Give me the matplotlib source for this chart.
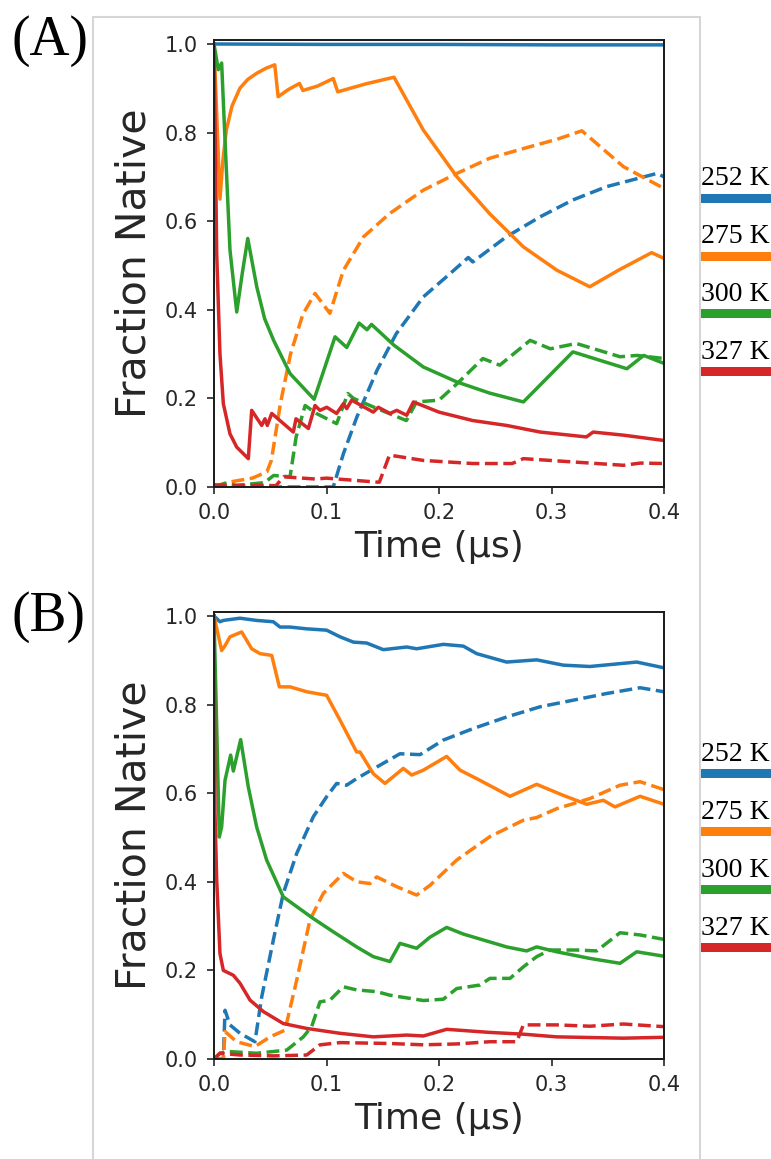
import matplotlib
matplotlib.use("Agg")
import matplotlib.pyplot as plt
from matplotlib.patches import Rectangle

# ---------------- data (time in microseconds, fraction native) ----------------
temps = ["252 K", "275 K", "300 K", "327 K"]
colors = ["#1f77b4", "#ff7f0e", "#2ca02c", "#d62728"]

# Panel A
A_blue_solid_t = [0, 0.1, 0.2, 0.3, 0.4]
A_blue_solid_v = [1.0, 0.999, 0.999, 0.998, 0.998]

A_orange_solid_t = [0, 0.0053, 0.008, 0.011, 0.016, 0.023, 0.030, 0.038, 0.046, 0.054, 0.057, 0.066,
                    0.076, 0.079, 0.092, 0.106, 0.110, 0.135, 0.160, 0.186, 0.216, 0.245, 0.275,
                    0.305, 0.334, 0.360, 0.389, 0.40]
A_orange_solid_v = [1.0, 0.65, 0.74, 0.806, 0.86, 0.90, 0.92, 0.934, 0.945, 0.953, 0.881, 0.897,
                    0.911, 0.895, 0.905, 0.922, 0.892, 0.91, 0.925, 0.806, 0.70, 0.617, 0.542,
                    0.489, 0.452, 0.49, 0.529, 0.516]

A_green_solid_t = [0, 0.0038, 0.0068, 0.0095, 0.0142, 0.0202, 0.025, 0.030, 0.038, 0.045, 0.053,
                   0.0676, 0.089, 0.1076, 0.118, 0.129, 0.136, 0.140, 0.16, 0.186, 0.216, 0.245,
                   0.275, 0.319, 0.367, 0.382, 0.40]
A_green_solid_v = [1.0, 0.942, 0.957, 0.80, 0.535, 0.395, 0.48, 0.561, 0.452, 0.38, 0.331,
                   0.256, 0.198, 0.339, 0.315, 0.370, 0.355, 0.367, 0.32, 0.271, 0.237, 0.212,
                   0.192, 0.305, 0.267, 0.297, 0.279]

A_red_solid_t = [0, 0.0024, 0.0053, 0.0083, 0.0142, 0.0202, 0.0305, 0.0335, 0.0424, 0.0453, 0.0474,
                 0.0513, 0.0705, 0.0729, 0.0839, 0.0898, 0.0942, 0.1002, 0.109, 0.1150, 0.118,
                 0.1224, 0.1416, 0.146, 0.1564, 0.1624, 0.1713, 0.1773, 0.20, 0.23, 0.26, 0.29,
                 0.331, 0.337, 0.364, 0.40]
A_red_solid_v = [1.0, 0.527, 0.30, 0.188, 0.12, 0.09, 0.064, 0.173, 0.139, 0.154, 0.139,
                 0.166, 0.124, 0.154, 0.132, 0.184, 0.173, 0.18, 0.166, 0.188, 0.177,
                 0.196, 0.169, 0.18, 0.166, 0.173, 0.162, 0.192, 0.169, 0.15, 0.139, 0.124,
                 0.113, 0.124, 0.117, 0.105]

A_blue_dash_t = [0, 0.106, 0.115, 0.127, 0.145, 0.162, 0.186, 0.21, 0.226, 0.23, 0.26, 0.29,
                 0.319, 0.349, 0.394, 0.40]
A_blue_dash_v = [0, 0.0, 0.075, 0.158, 0.264, 0.346, 0.429, 0.482, 0.518, 0.508, 0.565, 0.61,
                 0.648, 0.678, 0.708, 0.70]

A_orange_dash_t = [0, 0.011, 0.034, 0.047, 0.051, 0.059, 0.068, 0.079, 0.0898, 0.103, 0.115,
                   0.133, 0.156, 0.186, 0.216, 0.245, 0.275, 0.305, 0.327, 0.364, 0.40]
A_orange_dash_v = [0, 0.01, 0.02, 0.034, 0.06, 0.188, 0.30, 0.39, 0.437, 0.392, 0.489,
                   0.565, 0.617, 0.67, 0.708, 0.742, 0.764, 0.785, 0.804, 0.723, 0.674]

A_green_dash_t = [0, 0.01, 0.02, 0.03, 0.045, 0.053, 0.0676, 0.073, 0.081, 0.091, 0.109, 0.119,
                  0.124, 0.145, 0.171, 0.18, 0.2, 0.216, 0.239, 0.254, 0.281, 0.299, 0.322,
                  0.361, 0.376, 0.40]
A_green_dash_v = [0, 0.008, 0.004, 0.006, 0.01, 0.026, 0.023, 0.113, 0.184, 0.166, 0.143, 0.211,
                  0.2, 0.177, 0.15, 0.192, 0.196, 0.233, 0.29, 0.275, 0.331, 0.312, 0.324,
                  0.294, 0.297, 0.29]

A_red_dash_t = [0, 0.02, 0.04, 0.055, 0.062, 0.09, 0.1, 0.145, 0.147, 0.156, 0.186, 0.23, 0.265,
                0.275, 0.364, 0.379, 0.40]
A_red_dash_v = [0.005, 0.003, 0.004, 0.003, 0.023, 0.018, 0.02, 0.011, 0.011, 0.072, 0.06, 0.053,
                0.053, 0.064, 0.049, 0.054, 0.053]

# Panel B
B_blue_solid_t = [0, 0.0053, 0.0083, 0.0231, 0.0379, 0.0527, 0.0587, 0.0676, 0.0824, 0.1001, 0.112,
                  0.1239, 0.1357, 0.1505, 0.1713, 0.1801, 0.2039, 0.2216, 0.2335, 0.2601, 0.2868,
                  0.3105, 0.3342, 0.3757, 0.4]
B_blue_solid_v = [1.0, 0.987, 0.990, 0.995, 0.990, 0.987, 0.975, 0.975, 0.971, 0.968, 0.953,
                  0.941, 0.939, 0.924, 0.930, 0.926, 0.936, 0.932, 0.915, 0.896, 0.901,
                  0.889, 0.886, 0.896, 0.883]

B_orange_solid_t = [0, 0.0068, 0.0098, 0.0142, 0.0246, 0.0335, 0.0409, 0.0513, 0.0581, 0.0676,
                    0.0824, 0.1001, 0.112, 0.1268, 0.1298, 0.1416, 0.152, 0.1683, 0.1757, 0.1861,
                    0.2068, 0.2187, 0.2364, 0.2631, 0.2868, 0.3105, 0.3313, 0.3461, 0.3564,
                    0.3787, 0.4]
B_orange_solid_v = [1.0, 0.922, 0.933, 0.953, 0.964, 0.926, 0.915, 0.911, 0.84, 0.84,
                    0.829, 0.821, 0.765, 0.693, 0.693, 0.644, 0.622, 0.656, 0.641, 0.652,
                    0.683, 0.652, 0.629, 0.593, 0.62, 0.595, 0.575, 0.584, 0.569,
                    0.593, 0.575]

B_green_solid_t = [0, 0.0024, 0.0047, 0.0068, 0.0098, 0.0148, 0.0172, 0.0237, 0.0305, 0.0379,
                   0.0424, 0.0468, 0.0616, 0.0735, 0.0883, 0.1061, 0.1268, 0.1416, 0.1564,
                   0.1653, 0.1801, 0.192, 0.2068, 0.2216, 0.2601, 0.2779, 0.2868, 0.3046,
                   0.3342, 0.3609, 0.3757, 0.4]
B_green_solid_v = [1.0, 0.75, 0.501, 0.524, 0.629, 0.686, 0.65, 0.721, 0.614, 0.524,
                   0.486, 0.449, 0.366, 0.344, 0.317, 0.287, 0.253, 0.231, 0.22,
                   0.261, 0.25, 0.275, 0.297, 0.282, 0.253, 0.244, 0.253, 0.242,
                   0.227, 0.216, 0.242, 0.232]

B_red_solid_t = [0, 0.0009, 0.0024, 0.0053, 0.0083, 0.0172, 0.0231, 0.032, 0.0439, 0.0616, 0.0824,
                 0.112, 0.1416, 0.1713, 0.1861, 0.2068, 0.2453, 0.275, 0.3046, 0.3639, 0.4]
B_red_solid_v = [1.0, 0.554, 0.404, 0.238, 0.2, 0.189, 0.171, 0.133, 0.107, 0.08, 0.069,
                 0.058, 0.05, 0.054, 0.052, 0.067, 0.06, 0.056, 0.05, 0.047, 0.049]

B_blue_dash_t = [0, 0.0083, 0.0098, 0.0142, 0.0231, 0.0364, 0.0424, 0.0527, 0.0616, 0.0735,
                 0.0883, 0.1001, 0.109, 0.1179, 0.1268, 0.1446, 0.1653, 0.1831, 0.2039, 0.2305,
                 0.2601, 0.2898, 0.3194, 0.349, 0.3787, 0.4]
B_blue_dash_v = [0, 0.0, 0.11, 0.077, 0.058, 0.039, 0.14, 0.268, 0.374, 0.464,
                 0.547, 0.592, 0.622, 0.618, 0.633, 0.659, 0.689, 0.687, 0.72, 0.746,
                 0.772, 0.795, 0.81, 0.825, 0.838, 0.829]

B_orange_dash_t = [0, 0.0083, 0.0098, 0.0201, 0.0364, 0.0498, 0.0631, 0.0735, 0.0853, 0.0972,
                   0.1150, 0.1268, 0.1387, 0.1446, 0.1624, 0.1801, 0.192, 0.2157, 0.2453, 0.275,
                   0.2868, 0.3046, 0.3342, 0.3609, 0.3787, 0.4]
B_orange_dash_v = [0, 0.0, 0.062, 0.039, 0.028, 0.05, 0.065, 0.178, 0.314, 0.374,
                   0.419, 0.4, 0.396, 0.411, 0.389, 0.37, 0.392, 0.449, 0.502, 0.539,
                   0.545, 0.565, 0.588, 0.618, 0.626, 0.608]

B_green_dash_t = [0, 0.0053, 0.0113, 0.0379, 0.0646, 0.0794, 0.0868, 0.0942, 0.1031, 0.115,
                  0.1268, 0.1446, 0.1564, 0.1861, 0.2039, 0.2157, 0.2364, 0.2453, 0.2631, 0.275,
                  0.2868, 0.2987, 0.3224, 0.3402, 0.3609, 0.3787, 0.4]
B_green_dash_v = [0, 0.013, 0.017, 0.013, 0.02, 0.05, 0.073, 0.129, 0.133, 0.163,
                  0.156, 0.152, 0.144, 0.132, 0.135, 0.159, 0.167, 0.182, 0.182, 0.208,
                  0.231, 0.246, 0.246, 0.244, 0.285, 0.28, 0.27]

B_red_dash_t = [0, 0.0053, 0.0231, 0.0527, 0.0824, 0.0942, 0.112, 0.1564, 0.1861, 0.2157, 0.2453,
                0.2691, 0.275, 0.3046, 0.3342, 0.3639, 0.4]
B_red_dash_v = [0, 0.013, 0.009, 0.007, 0.009, 0.032, 0.037, 0.035, 0.032, 0.034, 0.039,
                0.039, 0.077, 0.077, 0.074, 0.079, 0.073]

x_ticks = [0.0, 0.1, 0.2, 0.3, 0.4]
y_ticks = [0.0, 0.2, 0.4, 0.6, 0.8, 1.0]

panelA_solid = [(A_blue_solid_t, A_blue_solid_v), (A_orange_solid_t, A_orange_solid_v),
                (A_green_solid_t, A_green_solid_v), (A_red_solid_t, A_red_solid_v)]
panelA_dash = [(A_blue_dash_t, A_blue_dash_v), (A_orange_dash_t, A_orange_dash_v),
               (A_green_dash_t, A_green_dash_v), (A_red_dash_t, A_red_dash_v)]
panelB_solid = [(B_blue_solid_t, B_blue_solid_v), (B_orange_solid_t, B_orange_solid_v),
                (B_green_solid_t, B_green_solid_v), (B_red_solid_t, B_red_solid_v)]
panelB_dash = [(B_blue_dash_t, B_blue_dash_v), (B_orange_dash_t, B_orange_dash_v),
               (B_green_dash_t, B_green_dash_v), (B_red_dash_t, B_red_dash_v)]

# ---------------- figure ----------------
W, H = 771, 1159
fig = plt.figure(figsize=(W / 100, H / 100), dpi=100)


def fx(px):
    return px / W


def fy(py):
    return 1 - py / H


# light gray frame
fig.add_artist(Rectangle((fx(93), -0.01), fx(700) - fx(93), fy(17) + 0.01,
                         transform=fig.transFigure, fill=False,
                         edgecolor="#d6d6d6", linewidth=1.5))

ax_specs = [
    (panelA_solid, panelA_dash, 40, 487, "(A)", 41, [185, 243, 301, 359], [198, 256, 313, 371]),
    (panelB_solid, panelB_dash, 612, 1059, "(B)", 617, [761, 819, 877, 935], [773, 831, 889, 947]),
]

for solid, dash, top, bottom, lab, laby, txt_y, bar_y in ax_specs:
    ax = fig.add_axes([fx(214), fy(bottom), fx(664) - fx(214), (bottom - top) / H])
    for i in range(4):
        ax.plot(solid[i][0], solid[i][1], color=colors[i], lw=2.5, ls="-")
        ax.plot(dash[i][0], dash[i][1], color=colors[i], lw=2.5, ls="--")
    ax.set_xlim(0, 0.4)
    ax.set_ylim(0, 1.009)
    ax.set_xticks(x_ticks)
    ax.set_yticks(y_ticks)
    ax.set_xticklabels([f"{v:.1f}" for v in x_ticks])
    ax.set_yticklabels([f"{v:.1f}" for v in y_ticks])
    ax.tick_params(axis="both", labelsize=15, length=5, width=1.2, pad=6.5,
                   labelcolor="#262626", color="#262626")
    for s in ax.spines.values():
        s.set_linewidth(1.4)
        s.set_color("#1a1a1a")
    ax.set_xlabel("Time (μs)", fontsize=26, color="#262626", labelpad=5)
    ax.set_ylabel("Fraction Native", fontsize=29.5, color="#262626")
    ax.yaxis.set_label_coords((155 - 214) / 450, 0.5)

    fig.text(fx(12), fy(laby), lab, ha="left", va="center", fontsize=40,
             family="Liberation Serif")
    for i in range(4):
        fig.text(fx(701), fy(txt_y[i]), temps[i], ha="left", va="baseline",
                 fontsize=20, family="Liberation Serif")
        fig.add_artist(Rectangle((fx(701), fy(bar_y[i] + 4.5)), fx(771) - fx(701), 9 / H,
                                 transform=fig.transFigure, facecolor=colors[i],
                                 edgecolor="none"))

fig.savefig("out.png", dpi=100)
